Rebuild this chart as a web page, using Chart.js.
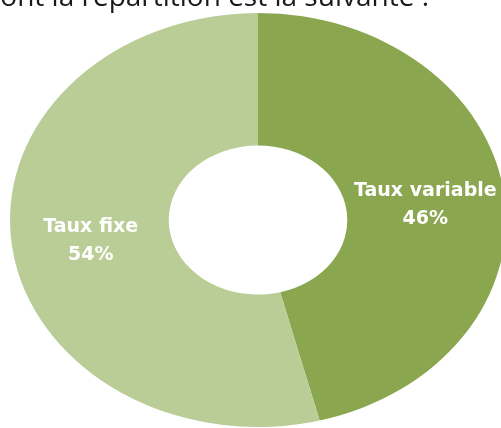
<!DOCTYPE html>
<html lang="fr">
<head>
<meta charset="utf-8">
<title>Répartition des taux</title>
<script src="https://cdn.jsdelivr.net/npm/chart.js@4.4.1/dist/chart.umd.min.js"></script>
<style>
  html, body { margin: 0; padding: 0; background: #fff; overflow: hidden; }
  #wrap { position: relative; width: 501px; height: 428px; }
</style>
</head>
<body>
<div id="wrap"><canvas id="pieChart"></canvas></div>
<script>
// données
const categories = ['Taux variable', 'Taux fixe'];
const values = [46, 54];
const colors = ['#8aa64e', '#bacd96'];
const introText = 'dont la répartition est la suivante :';

// le graphique d'origine est une ellipse : on étire le cercle en largeur
const STRETCH_X = 248 / 207;

const ellipsePlugin = {
    id: 'ellipse',
    beforeDatasetsDraw(chart) {
        const arc = chart.getDatasetMeta(0).data[0];
        const ctx = chart.ctx;
        ctx.save();
        ctx.translate(arc.x, 0);
        ctx.scale(STRETCH_X, 1);
        ctx.translate(-arc.x, 0);
    },
    afterDatasetsDraw(chart) {
        chart.ctx.restore();
    },
    afterDraw(chart) {
        const ctx = chart.ctx;
        const meta = chart.getDatasetMeta(0);
        ctx.save();
        // étiquettes des parts
        ctx.fillStyle = '#ffffff';
        ctx.font = 'bold 19px "DejaVu Sans"';
        ctx.textAlign = 'center';
        ctx.textBaseline = 'middle';
        meta.data.forEach((arc, i) => {
            const p = arc.getCenterPoint();
            const x = arc.x + (p.x - arc.x) * STRETCH_X;
            const y = p.y + 3;
            ctx.fillText(categories[i], x, y - 14);
            ctx.fillText(values[i] + '%', x, y + 14);
        });
        // texte du document, coupé en haut
        ctx.fillStyle = '#1a1a1a';
        ctx.font = '28px "Open Sans"';
        ctx.textAlign = 'right';
        ctx.textBaseline = 'alphabetic';
        ctx.fillText(introText, 429, 6);
        ctx.restore();
    }
};

new Chart(document.getElementById('pieChart'), {
    type: 'doughnut',
    data: {
        labels: categories,
        datasets: [{
            data: values,
            backgroundColor: colors,
            borderWidth: 0,
            clip: false
        }]
    },
    options: {
        responsive: true,
        maintainAspectRatio: false,
        animation: false,
        cutout: '36%',
        layout: { padding: { top: 13, bottom: 1, left: 15, right: 0 } },
        plugins: {
            legend: { display: false },
            tooltip: { enabled: false }
        },
        events: []
    },
    plugins: [ellipsePlugin]
});
</script>
</body>
</html>
